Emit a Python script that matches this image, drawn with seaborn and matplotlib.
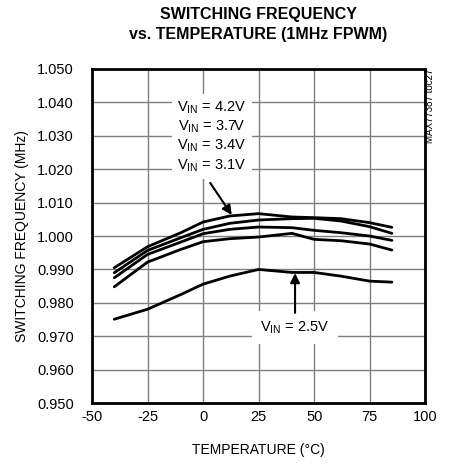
import numpy as np
import pandas as pd
import matplotlib
matplotlib.use("Agg")
import matplotlib.pyplot as plt
import seaborn as sns

# ==== 数据 ====
temps = [-40, -25, -10, 0, 12, 25, 40, 50, 62, 75, 85]
freq_42 = [0.9905, 0.9968, 1.0010, 1.0042, 1.0060, 1.0067, 1.0057, 1.0055, 1.0052, 1.0040, 1.0026]
freq_37 = [0.9890, 0.9957, 0.9995, 1.0020, 1.0038, 1.0048, 1.0052, 1.0053, 1.0045, 1.0028, 1.0008]
freq_34 = [0.9875, 0.9945, 0.9982, 1.0007, 1.0020, 1.0027, 1.0025, 1.0017, 1.0010, 1.0000, 0.9987]
freq_31 = [0.9848, 0.9922, 0.9960, 0.9983, 0.9992, 0.9997, 1.0008, 0.9990, 0.9986, 0.9976, 0.9958]
freq_25 = [0.9751, 0.9781, 0.9825, 0.9856, 0.9880, 0.9900, 0.9891, 0.9891, 0.9880, 0.9865, 0.9862]

vin_names = ["4.2V", "3.7V", "3.4V", "3.1V", "2.5V"]
series = [freq_42, freq_37, freq_34, freq_31, freq_25]

x_ticks = [-50, -25, 0, 25, 50, 75, 100]
y_ticks = [0.950, 0.960, 0.970, 0.980, 0.990, 1.000, 1.010, 1.020, 1.030, 1.040, 1.050]

df = pd.DataFrame({
    "temp": temps * len(series),
    "freq": [v for s in series for v in s],
    "vin": [n for n in vin_names for _ in temps],
})

sns.set_style("white")
plt.rcParams['font.family'] = ['Liberation Sans', 'DejaVu Sans']
plt.rcParams['mathtext.default'] = 'regular'
for k in ['text.color', 'axes.labelcolor', 'xtick.color', 'ytick.color']:
    plt.rcParams[k] = 'black'

fig = plt.figure(figsize=(4.49, 4.66), dpi=100)
ax = fig.add_axes([0.205, 0.135, 0.742, 0.717])

sns.lineplot(data=df, x="temp", y="freq", hue="vin",
             palette={n: "black" for n in vin_names},
             linewidth=2, legend=False, ax=ax, zorder=3)

ax.set_xlim(-50, 100)
ax.set_ylim(0.950, 1.050)
ax.set_xticks(x_ticks)
ax.set_yticks(y_ticks)
ax.set_xticklabels([str(t) for t in x_ticks], fontsize=10.5)
ax.set_yticklabels([f"{t:.3f}" for t in y_ticks], fontsize=10.5)
ax.tick_params(axis="x", length=0, pad=5)
ax.tick_params(axis="y", length=0, pad=13)
ax.grid(True, color="#7f7f7f", linewidth=1.0)
ax.set_axisbelow(True)
for sp in ax.spines.values():
    sp.set_linewidth(2)
    sp.set_color("black")
    sp.set_zorder(5)

ax.set_xlabel("TEMPERATURE (°C)", fontsize=10, labelpad=14)
ax.set_ylabel("SWITCHING FREQUENCY (MHz)", fontsize=10, labelpad=6)

fig.text(0.575, 0.985, "SWITCHING FREQUENCY\nvs. TEMPERATURE (1MHz FPWM)",
         ha="center", va="top", fontsize=11.5, fontweight="bold", linespacing=1.45)
fig.text(0.958, 0.852, "MAX77387 toc27", rotation=90, ha="center", va="top",
         fontsize=7)

# 标注
label_top = "\n".join([r"V$_{IN}$ = " + n for n in vin_names[:4]])
ax.text(4, 1.0298, label_top, ha="center", va="center", fontsize=10.5,
        linespacing=1.25, zorder=4,
        bbox=dict(facecolor="white", edgecolor="none", pad=4))
ax.annotate("", xy=(12.9, 1.0063), xytext=(3.2, 1.0159),
            arrowprops=dict(arrowstyle="-|>", color="black", lw=1.5,
                            mutation_scale=14, shrinkA=0, shrinkB=0), zorder=4)

ax.text(41.4, 0.9725, r"V$_{IN}$ = 2.5V", ha="center", va="center", fontsize=10.5,
        zorder=4, bbox=dict(facecolor="white", edgecolor="none", pad=6))
ax.annotate("", xy=(41.4, 0.9889), xytext=(41.4, 0.9770),
            arrowprops=dict(arrowstyle="-|>", color="black", lw=1.5,
                            mutation_scale=14, shrinkA=0, shrinkB=0), zorder=4)

fig.savefig("out.png", dpi=100)
